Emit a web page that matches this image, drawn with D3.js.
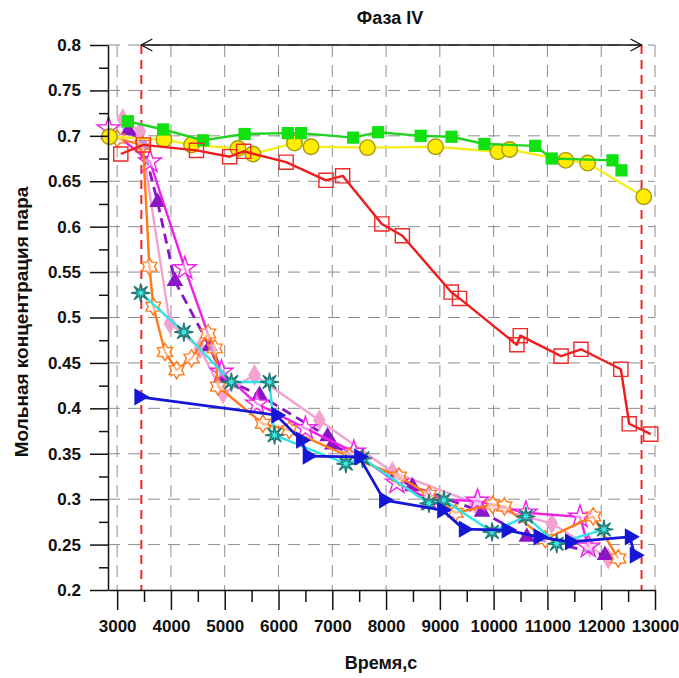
<!DOCTYPE html>
<html>
<head>
<meta charset="utf-8">
<script src="https://cdn.jsdelivr.net/npm/d3@7"></script>
<style>
  body { margin: 0; background: #fff; }
  text { font-family: "Liberation Sans", Arial, sans-serif; font-weight: bold; fill: #111; }
</style>
</head>
<body>
<svg id="chart" width="679" height="678"></svg>
<script>
// ---- data ----
const xTicks = [3000, 4000, 5000, 6000, 7000, 8000, 9000, 10000, 11000, 12000, 13000];
const yTicks = [0.2, 0.25, 0.3, 0.35, 0.4, 0.45, 0.5, 0.55, 0.6, 0.65, 0.7, 0.75, 0.8];
const phaseBounds = [3450, 12750];
const phaseLabel = "Фаза IV";
const xLabel = "Время,с";
const yLabel = "Мольная концентрация пара";

const pinkT   = [3105, 3426, 3981, 4537, 4969, 5555, 6760, 8117, 9661, 11080, 11790, 12130];
const pinkV   = [0.7185, 0.7045, 0.4935, 0.466, 0.4164, 0.4366, 0.387, 0.330, 0.2953, 0.2733, 0.2475, 0.2347];

const purpleT = [3210, 3480, 3753, 4074, 4722, 4969, 5648, 6913, 7000, 8489, 9785, 10617, 12069];
const purpleV = [0.706, 0.690, 0.627, 0.540, 0.468, 0.433, 0.4145, 0.369, 0.360, 0.314, 0.286, 0.2585, 0.2383];

const magentaT = [2840, 3611, 4259, 4940, 5600, 6500, 7400, 8200, 8790, 9700, 10600, 11606, 11760];
const magentaV = [0.708, 0.6715, 0.554, 0.440, 0.405, 0.378, 0.352, 0.318, 0.300, 0.298, 0.285, 0.2805, 0.2475];

const orangeT = [3000, 3480, 3600, 3673, 3889, 4105, 4383, 4691, 4815, 4876, 5710, 6200, 7315, 8241, 8796, 9290, 9980, 10200, 10960, 11850, 12315];
const orangeV = [0.697, 0.690, 0.556, 0.512, 0.462, 0.442, 0.455, 0.4825, 0.466, 0.424, 0.383, 0.376, 0.347, 0.325, 0.305, 0.285, 0.294, 0.292, 0.256, 0.281, 0.2347];

const cyanT   = [3438, 4241, 5124, 5833, 5926, 7253, 7562, 8797, 9075, 9970, 10600, 11173, 12050];
const cyanV   = [0.527, 0.484, 0.429, 0.429, 0.3705, 0.339, 0.345, 0.2953, 0.299, 0.264, 0.281, 0.251, 0.2667];

const blueT   = [3413, 5958, 6420, 6543, 7500, 7963, 9043, 9445, 10241, 10834, 11420, 12532, 12624];
const blueV   = [0.4127, 0.3925, 0.365, 0.3474, 0.3466, 0.299, 0.288, 0.267, 0.266, 0.2585, 0.253, 0.2585, 0.2383];

const redT    = [3068, 3487, 4475, 5093, 5352, 6142, 6883, 7192, 7921, 8303, 9210, 9365, 10432, 10495, 11254, 11624, 12365, 12520, 12921];
const redV    = [0.680, 0.690, 0.684, 0.677, 0.683, 0.671, 0.651, 0.656, 0.603, 0.590, 0.528, 0.521, 0.470, 0.480, 0.4575, 0.465, 0.443, 0.383, 0.3716];

const yellowT = [2857, 3870, 4383, 5247, 5524, 6297, 6605, 7654, 8920, 10080, 10297, 11340, 11748, 12791];
const yellowV = [0.699, 0.696, 0.690, 0.686, 0.680, 0.692, 0.688, 0.687, 0.688, 0.6825, 0.685, 0.673, 0.670, 0.633];

const greenT  = [3200, 3857, 4598, 5370, 6172, 6420, 7389, 7852, 8643, 9217, 9828, 10773, 11080, 12210, 12377];
const greenV  = [0.716, 0.707, 0.695, 0.702, 0.703, 0.703, 0.698, 0.704, 0.700, 0.699, 0.691, 0.689, 0.675, 0.673, 0.662];

// ---- custom marker shapes ----
function starShape(points, innerRatio) {
  return {
    draw(ctx, size) {
      const r = Math.sqrt(size), ri = r * innerRatio;
      for (let i = 0; i < points * 2; i++) {
        const a = Math.PI * i / points - Math.PI / 2;
        const rr = i % 2 === 0 ? r : ri;
        if (i === 0) ctx.moveTo(rr * Math.cos(a), rr * Math.sin(a));
        else ctx.lineTo(rr * Math.cos(a), rr * Math.sin(a));
      }
      ctx.closePath();
    }
  };
}
const star6 = starShape(6, 0.6);
const burst8 = starShape(8, 0.32);

// ---- layout ----
const svg = d3.select("#chart");
const x = d3.scaleLinear().domain([2830, 13000]).range([108, 655]);
const y = d3.scaleLinear().domain([0.2, 0.8]).range([590, 45]);

// grid
const grid = svg.append("g").attr("stroke", "#8c8c8c").attr("stroke-width", 1).attr("stroke-dasharray", "12,8");
grid.selectAll("line.h").data(yTicks.filter(v => v > 0.2)).join("line")
  .attr("x1", x.range()[0]).attr("x2", x.range()[1])
  .attr("y1", d => y(d)).attr("y2", d => y(d));
grid.selectAll("line.v").data(xTicks).join("line")
  .attr("x1", d => x(d)).attr("x2", d => x(d))
  .attr("y1", y(0.8)).attr("y2", y(0.2));

// phase boundaries
svg.append("g").selectAll("line").data(phaseBounds).join("line")
  .attr("x1", d => x(d)).attr("x2", d => x(d))
  .attr("y1", y(0.8)).attr("y2", y(0.2))
  .attr("stroke", "#e8292b").attr("stroke-width", 2).attr("stroke-dasharray", "9,6");

// series
const series = [
  { t: pinkT, v: pinkV, color: "#f3a3d2", width: 2.4, marker: d3.symbolDiamond, size: 140, fill: "#f3a3d2", stroke: "none" },
  { t: purpleT, v: purpleV, color: "#8a16c8", width: 2.8, dash: "10,6", marker: d3.symbolTriangle, size: 120, fill: "#8a16c8", stroke: "none" },
  { t: magentaT, v: magentaV, color: "#ee22e6", width: 2.4, marker: d3.symbolStar, size: 160, fill: "#fff", fillOpacity: 0.5, stroke: "#ee22e6" },
  { t: orangeT, v: orangeV, color: "#ff7a1a", width: 2.4, marker: star6, size: 75, fill: "#fff", fillOpacity: 0.5, stroke: "#ff7a1a" },
  { t: cyanT, v: cyanV, color: "#2ee3e6", width: 2.4, marker: burst8, size: 90, fill: "#3ee6e6", stroke: "#1f7a74" },
  { t: blueT, v: blueV, color: "#1616d6", width: 2.8, marker: d3.symbolTriangle, size: 130, rotate: 90, fill: "#1616d6", stroke: "none" },
  { t: yellowT, v: yellowV, color: "#f4ee1c", width: 2.4, marker: d3.symbolCircle, size: 190, fill: "#ffec00", stroke: "#a89a10" },
  { t: greenT, v: greenV, color: "#1fd41f", width: 2.4, marker: d3.symbolSquare, size: 150, fill: "#11e011", stroke: "none" },
  { t: redT, v: redV, color: "#ee1c1c", width: 2.4, marker: d3.symbolSquare, size: 200, fill: "none", stroke: "#ee2a2a" }
];

const line = d3.line().x(d => x(d[0])).y(d => y(d[1]));
series.forEach(s => {
  const pts = s.t.map((t, i) => [t, s.v[i]]);
  const g = svg.append("g");
  g.append("path").attr("d", line(pts)).attr("fill", "none")
    .attr("stroke", s.color).attr("stroke-width", s.width)
    .attr("stroke-dasharray", s.dash || null).attr("stroke-linejoin", "round");
  g.selectAll("path.m").data(pts).join("path")
    .attr("class", "m")
    .attr("d", d3.symbol().type(s.marker).size(s.size))
    .attr("transform", d => `translate(${x(d[0])},${y(d[1])})` + (s.rotate ? ` rotate(${s.rotate})` : ""))
    .attr("fill", s.fill).attr("fill-opacity", s.fillOpacity || 1)
    .attr("stroke", s.stroke).attr("stroke-width", 1.4);
});

// axes
const yAxis = svg.append("g").attr("transform", `translate(${x.range()[0]},0)`)
  .call(d3.axisLeft(y).tickValues(yTicks).tickSize(18).tickSizeOuter(0).tickPadding(9).tickFormat(d3.format("")));
const yMinor = svg.append("g").attr("transform", `translate(${x.range()[0]},0)`)
  .call(d3.axisLeft(y).tickValues(yTicks.slice(0, -1).map(v => v + 0.025)).tickSize(9).tickFormat(""));
yMinor.select(".domain").remove();

const xAxis = svg.append("g").attr("transform", `translate(0,${y.range()[0]})`)
  .call(d3.axisBottom(x).tickValues(xTicks).tickSize(20).tickSizeOuter(0).tickPadding(10).tickFormat(d3.format("d")));
const xMinor = svg.append("g").attr("transform", `translate(0,${y.range()[0]})`)
  .call(d3.axisBottom(x).tickValues(xTicks.slice(0, -1).map(v => v + 500)).tickSize(12).tickFormat(""));
xMinor.select(".domain").remove();

svg.selectAll(".domain, .tick line").attr("stroke", "#111").attr("stroke-width", 1.5);
svg.selectAll(".tick text").style("font-size", "17px").style("font-family", "'Liberation Sans', Arial, sans-serif").style("font-weight", "bold");

// phase arrow
const ay = y(0.8);
const arrow = svg.append("g").attr("stroke", "#111").attr("stroke-width", 1.3).attr("fill", "none");
arrow.append("line").attr("x1", x(phaseBounds[0])).attr("x2", x(phaseBounds[1])).attr("y1", ay).attr("y2", ay);
arrow.append("path").attr("d", `M${x(phaseBounds[0]) + 11},${ay - 6} L${x(phaseBounds[0])},${ay} L${x(phaseBounds[0]) + 11},${ay + 6}`);
arrow.append("path").attr("d", `M${x(phaseBounds[1]) - 11},${ay - 6} L${x(phaseBounds[1])},${ay} L${x(phaseBounds[1]) - 11},${ay + 6}`);

svg.append("text").attr("x", 390).attr("y", 24).attr("text-anchor", "middle")
  .style("font-size", "18px").text(phaseLabel);

svg.append("text").attr("x", 381).attr("y", 669).attr("text-anchor", "middle")
  .style("font-size", "18px").text(xLabel);

svg.append("text").attr("transform", "translate(28,322) rotate(-90)").attr("text-anchor", "middle")
  .style("font-size", "19px").text(yLabel);
</script>
</body>
</html>
